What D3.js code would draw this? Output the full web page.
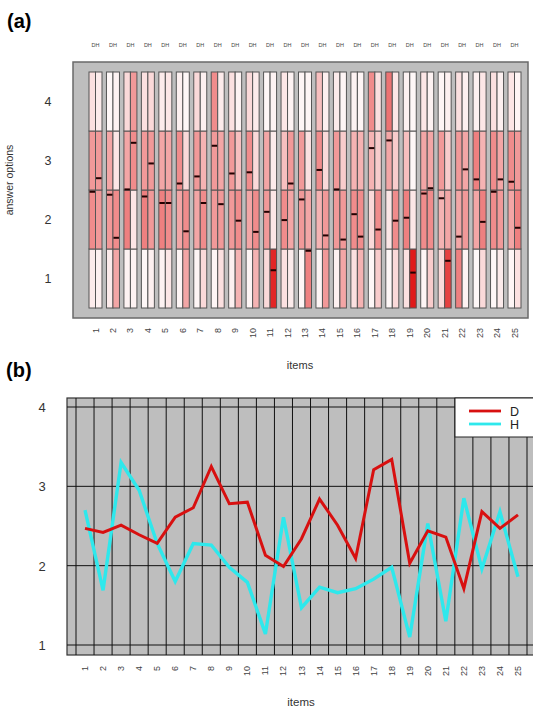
<!DOCTYPE html>
<html><head><meta charset="utf-8">
<script src="https://cdn.jsdelivr.net/npm/d3@7"></script>
<style>body{margin:0;background:#fff}svg{display:block;font-family:"Liberation Sans",Arial,sans-serif}</style>
</head><body>
<script>
const items = ["1","2","3","4","5","6","7","8","9","10","11","12","13","14","15","16","17","18","19","20","21","22","23","24","25"];
const answerOptions = [1,2,3,4];
const groups = ["D","H"];
// mean answer per item
const meanD = [2.47,2.42,2.51,2.39,2.28,2.61,2.73,3.25,2.78,2.80,2.13,1.99,2.34,2.84,2.51,2.09,3.21,3.34,2.03,2.44,2.36,1.71,2.68,2.47,2.64];
const meanH = [2.70,1.69,3.30,2.95,2.28,1.80,2.28,2.26,1.98,1.79,1.14,2.61,1.47,1.73,1.66,1.71,1.83,1.98,1.10,2.53,1.30,2.85,1.96,2.68,1.86];
// share of answers per option [1,2,3,4] for each item
const propD = [[.08,.45,.4,.12],[.08,.4,.35,.03],[.05,.5,.35,.15],[.03,.5,.4,.12],[.05,.5,.35,.08],[.04,.35,.45,.06],[.04,.35,.4,.15],[.04,.4,.4,.45],[.06,.4,.4,.12],[.04,.35,.45,.15],[.15,.4,.35,.03],[.12,.45,.25,.1],[.04,.4,.4,.04],[.04,.3,.45,.25],[.06,.4,.4,.08],[.12,.45,.3,.05],[.03,.15,.3,.45],[.03,.1,.35,.55],[.12,.5,.25,.05],[.04,.45,.35,.1],[.15,.3,.4,.04],[.5,.35,.4,.12],[.03,.35,.5,.06],[.03,.45,.45,.12],[.04,.35,.45,.1]];
const propH = [[.06,.4,.4,.08],[.35,.45,.1,.05],[.05,.1,.45,.4],[.06,.4,.4,.15],[.1,.45,.35,.1],[.35,.45,.15,.03],[.15,.45,.3,.06],[.12,.4,.35,.08],[.3,.45,.25,.05],[.3,.45,.15,.08],[.85,.1,.08,.05],[.08,.35,.4,.05],[.5,.35,.12,.04],[.4,.4,.15,.06],[.35,.4,.2,.04],[.3,.45,.3,.04],[.2,.45,.2,.12],[.15,.45,.2,.1],[.9,.1,.03,.03],[.2,.45,.35,.05],[.75,.35,.2,.06],[.05,.4,.35,.06],[.15,.5,.3,.1],[.08,.4,.35,.06],[.12,.5,.4,.04]];
const yTicksA = [1,2,3,4];
const yTicksB = [1,2,3,4];

const W = 533, H = 709;
const svg = d3.select("body").append("svg").attr("width", W).attr("height", H);

// ---------- Panel (a) ----------
svg.append("text").attr("x", 7).attr("y", 28).attr("font-size", 20).attr("font-weight", "bold").text("(a)");
svg.append("rect").attr("x", 73).attr("y", 62).attr("width", 455).attr("height", 256)
  .attr("fill", "#bebebe").attr("stroke", "#6a6a6a").attr("stroke-width", 1.5);

const xA = d3.scaleLinear().domain([1, 25]).range([95.5, 514.5]);
const yA = d3.scaleLinear().domain([0.5, 4.5]).range([308, 72]);
const color = d3.scaleLinear().domain([0, 1]).range(["#ffffff", "#dd0000"]).clamp(true);
const subW = 6.5;

const cells = [];
items.forEach((it, i) => {
  groups.forEach((g, gi) => {
    const props = gi === 0 ? propD[i] : propH[i];
    answerOptions.forEach((opt, oi) => cells.push({ i, gi, opt, p: props[oi] }));
  });
});
const ga = svg.append("g");
ga.selectAll("rect.cell").data(cells).join("rect").attr("class", "cell")
  .attr("x", d => xA(d.i + 1) - subW + d.gi * subW)
  .attr("y", d => yA(d.opt + 0.5))
  .attr("width", subW)
  .attr("height", d => yA(d.opt - 0.5) - yA(d.opt + 0.5))
  .attr("fill", d => color(d.p))
  .attr("stroke", "#555").attr("stroke-width", 1);

const means = [];
items.forEach((it, i) => {
  means.push({ i, gi: 0, m: meanD[i] });
  means.push({ i, gi: 1, m: meanH[i] });
});
ga.selectAll("line.mean").data(means).join("line").attr("class", "mean")
  .attr("x1", d => xA(d.i + 1) - subW + d.gi * subW + 0.5)
  .attr("x2", d => xA(d.i + 1) + d.gi * subW - 0.5)
  .attr("y1", d => yA(d.m)).attr("y2", d => yA(d.m))
  .attr("stroke", "#200").attr("stroke-width", 2);

// DH labels
svg.selectAll("text.dh").data(items).join("text").attr("class", "dh")
  .attr("x", (d, i) => xA(i + 1)).attr("y", 47)
  .attr("text-anchor", "middle").attr("font-size", 5.5).attr("fill", "#444")
  .text("DH");

// y ticks a
svg.selectAll("text.ya").data(yTicksA).join("text").attr("class", "ya")
  .attr("x", 48).attr("y", d => yA(d) + 4.5).attr("text-anchor", "middle")
  .attr("font-size", 12.5).attr("fill", "#333").text(d => d);
svg.append("text").attr("transform", "translate(13,180) rotate(-90)")
  .attr("text-anchor", "middle").attr("font-size", 10.5).attr("fill", "#333").text("answer options");

// x labels a
svg.selectAll("text.xa").data(items).join("text").attr("class", "xa")
  .attr("transform", (d, i) => `translate(${xA(i + 1) + 3},${328}) rotate(-90)`)
  .attr("text-anchor", "end").attr("font-size", 9).attr("fill", "#444").text(d => d);
svg.append("text").attr("x", 300).attr("y", 369).attr("text-anchor", "middle")
  .attr("font-size", 11).attr("fill", "#333").text("items");

// ---------- Panel (b) ----------
svg.append("text").attr("x", 6).attr("y", 377).attr("font-size", 20).attr("font-weight", "bold").text("(b)");
const xB = d3.scaleLinear().domain([0.5, 25.5]).range([76, 527]);
const yB = d3.scaleLinear().domain([1, 4]).range([645, 407]);
const gb = svg.append("g");
gb.append("rect").attr("x", 67).attr("y", 398).attr("width", 470).attr("height", 257)
  .attr("fill", "#bebebe").attr("stroke", "#333").attr("stroke-width", 1.2);
gb.selectAll("line.vg").data(d3.range(0, 26)).join("line").attr("class", "vg")
  .attr("x1", k => xB(k + 0.5)).attr("x2", k => xB(k + 0.5))
  .attr("y1", 398).attr("y2", 655).attr("stroke", "#111").attr("stroke-width", 1);
gb.selectAll("line.hg").data(yTicksB).join("line").attr("class", "hg")
  .attr("x1", 67).attr("x2", 533).attr("y1", d => yB(d)).attr("y2", d => yB(d))
  .attr("stroke", "#111").attr("stroke-width", 1);

const line = d3.line().x((d, i) => xB(i + 1)).y(d => yB(d));
gb.append("path").datum(meanH).attr("d", line).attr("fill", "none")
  .attr("stroke", "#2ee8ec").attr("stroke-width", 3.4).attr("stroke-linejoin", "miter");
gb.append("path").datum(meanD).attr("d", line).attr("fill", "none")
  .attr("stroke", "#d81010").attr("stroke-width", 3).attr("stroke-linejoin", "miter");

// legend
const lg = svg.append("g");
lg.append("rect").attr("x", 455).attr("y", 398).attr("width", 80).attr("height", 39)
  .attr("fill", "#fff").attr("stroke", "#222").attr("stroke-width", 1);
[["D", "#d81010", 411], ["H", "#2ee8ec", 424]].forEach(([t, c, y]) => {
  lg.append("line").attr("x1", 469).attr("x2", 501).attr("y1", y).attr("y2", y)
    .attr("stroke", c).attr("stroke-width", 2.8);
  lg.append("text").attr("x", 510).attr("y", y + 4.5).attr("font-size", 12.5).attr("fill", "#222").text(t);
});

// y ticks b
svg.selectAll("text.yb").data(yTicksB).join("text").attr("class", "yb")
  .attr("x", 42).attr("y", d => yB(d) + 5).attr("text-anchor", "middle")
  .attr("font-size", 13).attr("fill", "#333").text(d => d);
svg.selectAll("text.xb").data(items).join("text").attr("class", "xb")
  .attr("transform", (d, i) => `translate(${xB(i + 1) + 3},${666}) rotate(-90)`)
  .attr("text-anchor", "end").attr("font-size", 9).attr("fill", "#444").text(d => d);
svg.append("text").attr("x", 301).attr("y", 706).attr("text-anchor", "middle")
  .attr("font-size", 11.5).attr("fill", "#333").text("items");
</script>
</body></html>
